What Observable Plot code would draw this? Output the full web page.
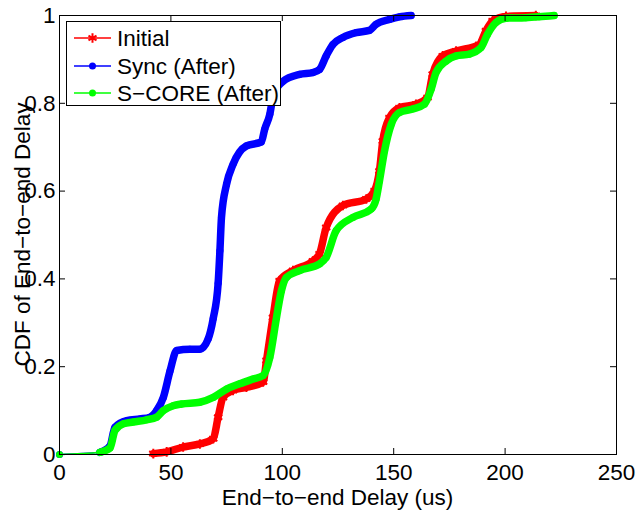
<!DOCTYPE html>
<html>
<head>
<meta charset="utf-8">
<script src="https://cdn.jsdelivr.net/npm/d3@7"></script>
<script src="https://cdn.jsdelivr.net/npm/@observablehq/plot@0.6"></script>
<style>
  html, body { margin: 0; padding: 0; background: #fff; }
  #wrap { position: relative; width: 636px; height: 511px; font-family: "Liberation Sans", Arial, sans-serif; }
  #legend { position: absolute; left: 66px; top: 21px; width: 213px; height: 83px; background: #fff; border: 1px solid #000; }
</style>
</head>
<body>
<div id="wrap"></div>
<script>
// ---- data (x in us, y = CDF) ----
const seriesNames = ["Initial", "Sync (After)", "S\u2212CORE (After)"];
const seriesColors = ["#ff0000", "#0000ff", "#00ff00"];

const initialX = [42.1, 48.1, 55.5, 63, 69, 71.2, 73.4, 77.9, 83.9, 91.4, 92.9, 95.8, 98.8, 104.8, 113.7, 116.7, 119.7, 127.2, 137.7, 141.4, 143.6, 145.1, 148.1, 152.6, 160, 165.2, 167.5, 172, 178, 188.4, 191.4, 194.4, 200.4, 213.8];
const initialY = [0.002, 0.006, 0.017, 0.024, 0.036, 0.085, 0.13, 0.146, 0.153, 0.165, 0.214, 0.312, 0.396, 0.419, 0.441, 0.457, 0.517, 0.567, 0.582, 0.601, 0.646, 0.714, 0.767, 0.79, 0.798, 0.813, 0.866, 0.908, 0.919, 0.934, 0.965, 0.988, 0.998, 1.0];

const syncX = [0, 18.2, 22.7, 24.9, 30.2, 36.1, 40.6, 43.6, 46.6, 49.6, 52.6, 58.5, 63, 66.7, 69, 71.2, 72, 72.7, 75, 77.9, 83.9, 90.6, 92.1, 94.4, 95.8, 100.3, 107.8, 113.7, 116.7, 119.7, 122.7, 127.2, 133.2, 139.1, 142.1, 148.1, 152.6, 157.8];
const syncY = [0, 0.005, 0.02, 0.062, 0.077, 0.081, 0.085, 0.1, 0.13, 0.19, 0.237, 0.24, 0.24, 0.263, 0.31, 0.39, 0.464, 0.54, 0.616, 0.661, 0.703, 0.712, 0.741, 0.775, 0.813, 0.85, 0.866, 0.87, 0.877, 0.908, 0.934, 0.95, 0.961, 0.966, 0.98, 0.991, 0.997, 1.0];

const scoreX = [0, 18.2, 22.7, 24.9, 28.7, 33.1, 39.1, 43.6, 46.6, 51, 54.8, 63, 69, 75, 80.9, 86.9, 91.4, 94.4, 97.4, 99.6, 101.8, 107.8, 116.7, 119.7, 124.2, 131.7, 139.9, 142.1, 143.6, 145.9, 148.9, 152.6, 158.5, 163.8, 166.8, 169, 173.5, 178, 183.9, 189.2, 192.1, 195.9, 200.4, 209.3, 215.3, 222];
const scoreY = [0, 0.005, 0.015, 0.055, 0.07, 0.074, 0.079, 0.085, 0.1, 0.111, 0.115, 0.119, 0.13, 0.149, 0.161, 0.172, 0.18, 0.221, 0.312, 0.373, 0.403, 0.419, 0.434, 0.449, 0.51, 0.54, 0.559, 0.582, 0.623, 0.692, 0.752, 0.779, 0.787, 0.798, 0.832, 0.87, 0.896, 0.908, 0.912, 0.927, 0.957, 0.984, 0.994, 0.995, 0.997, 1.0];

const xTicks = [0, 50, 100, 150, 200, 250];
const yTicks = [0, 0.2, 0.4, 0.6, 0.8, 1];
const xLabel = "End\u2212to\u2212end Delay (us)";
const yLabel = "CDF of End\u2212to\u2212end Delay";

// ---- build tables ----
const toRows = (xs, ys, s) => xs.map((x, i) => ({x, y: ys[i], s, i}));
const initial = toRows(initialX, initialY, seriesNames[0]);
const sync = toRows(syncX, syncY, seriesNames[1]);
const score = toRows(scoreX, scoreY, seriesNames[2]);

const W = 636, H = 511;
const mL = 59, mR = 20, mT = 15, mB = 57;
const fw = W - mL - mR, fh = H - mT - mB;
const tick = 6;
const FS = 22.5;
const FONT = "Liberation Sans, Arial, sans-serif";

function seriesMarks(rows, color, symbol, r) {
  const dense = rows.filter(d => d.x > 0);
  return [
    Plot.line(rows, {x: "x", y: "y", stroke: color, strokeWidth: 1.5, curve: "monotone-x"}),
    Plot.line(dense, {x: "x", y: "y", stroke: color, strokeWidth: 7.5, strokeLinecap: "round", strokeLinejoin: "round", curve: "monotone-x"}),
    symbol === "asterisk"
      ? Plot.dot(rows, {x: "x", y: "y", stroke: color, symbol: "asterisk", r, strokeWidth: 2})
      : Plot.dot(rows, {x: "x", y: "y", fill: color, r})
  ];
}

const chart = Plot.plot({
  width: W, height: H,
  marginLeft: mL, marginRight: mR, marginTop: mT, marginBottom: mB,
  style: {fontFamily: FONT, fontSize: FS + "px", color: "#000", background: "#fff"},
  x: {domain: [0, 250], ticks: xTicks},
  y: {domain: [0, 1], ticks: yTicks},
  marks: [
    ...seriesMarks(initial, seriesColors[0], "asterisk", 4.5),
    ...seriesMarks(sync, seriesColors[1], "circle", 3.5),
    ...seriesMarks(score, seriesColors[2], "circle", 3.5),
    Plot.frame({stroke: "#000", strokeWidth: 1}),
    Plot.ruleX(xTicks.slice(1, -1), {stroke: "#000", insetTop: fh - tick}),
    Plot.ruleX(xTicks.slice(1, -1), {stroke: "#000", insetBottom: fh - tick}),
    Plot.ruleY(yTicks.slice(1, -1), {stroke: "#000", insetRight: fw - tick}),
    Plot.ruleY(yTicks.slice(1, -1), {stroke: "#000", insetLeft: fw - tick}),
    Plot.axisX(xTicks, {anchor: "bottom", tickSize: 0, tickPadding: 10, label: null, fill: "#000", tickFormat: d => `${d}`}),
    Plot.axisY(yTicks, {anchor: "left", tickSize: 0, tickPadding: 4, label: null, fill: "#000", tickFormat: d => `${d}`})
  ]
});

const wrap = document.getElementById("wrap");
wrap.appendChild(chart);

const svg = d3.select(chart);
svg.append("text")
  .attr("x", mL + fw / 2).attr("y", 505)
  .attr("text-anchor", "middle")
  .attr("font-size", FS).attr("fill", "#000")
  .text(xLabel);
svg.append("text")
  .attr("transform", `translate(30,${mT + fh / 2}) rotate(-90)`)
  .attr("text-anchor", "middle")
  .attr("font-size", FS).attr("fill", "#000")
  .text(yLabel);

// ---- legend ----
const leg = document.createElement("div");
leg.id = "legend";
wrap.appendChild(leg);
const lsvg = d3.select(leg).append("svg").attr("width", 213).attr("height", 83)
  .style("position", "absolute").style("left", "0").style("top", "0");
const rowY = [16, 44, 71];
seriesNames.forEach((name, i) => {
  const g = lsvg.append("g").attr("transform", `translate(0,${rowY[i]})`);
  g.append("line").attr("x1", 7).attr("x2", 44).attr("y1", 0).attr("y2", 0)
    .attr("stroke", seriesColors[i]).attr("stroke-width", 1.5);
  if (i === 0) {
    const sym = d3.symbol(d3.symbolAsterisk, 60)();
    g.append("path").attr("d", sym).attr("transform", "translate(25.5,0)")
      .attr("stroke", seriesColors[i]).attr("stroke-width", 2).attr("fill", "none");
  } else {
    g.append("circle").attr("cx", 25.5).attr("cy", 0).attr("r", 3.5).attr("fill", seriesColors[i]);
  }
  g.append("text").attr("x", 50).attr("y", 0).attr("dy", "0.35em")
    .attr("font-size", FS).attr("font-family", FONT)
    .attr("fill", "#000").text(name);
});
</script>
</body>
</html>
